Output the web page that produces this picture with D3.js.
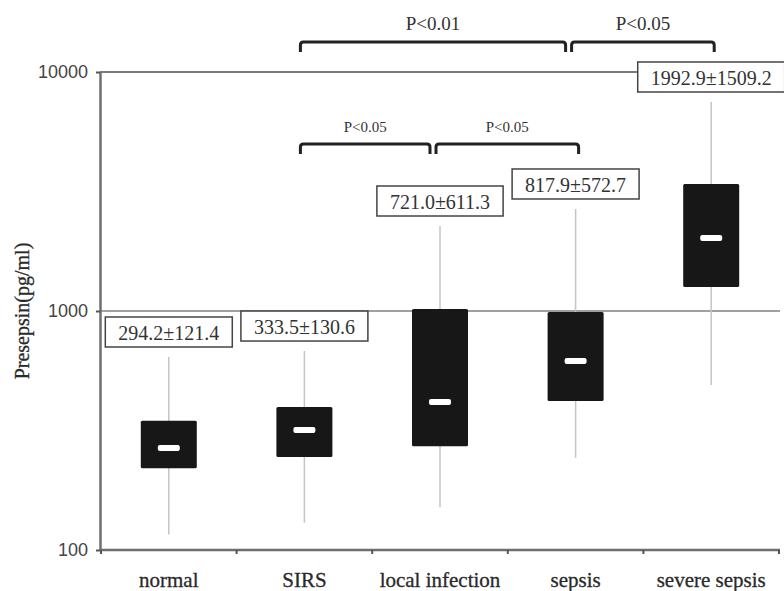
<!DOCTYPE html>
<html>
<head>
<meta charset="utf-8">
<script src="https://cdn.jsdelivr.net/npm/d3@7"></script>
<style>
  body { margin: 0; background: #fff; }
  svg { display: block; }
</style>
</head>
<body>
<div id="chart"></div>
<script>
var categories = ["normal", "SIRS", "local infection", "sepsis", "severe sepsis"];
var whiskerLow  = [116, 130, 151, 243, 490];
var q1          = [220, 245, 272, 420, 1259];
var median      = [267, 318, 416, 618, 2020];
var q3          = [347, 397, 1019, 990, 3398];
var whiskerHigh = [642, 680, 2268, 2672, 7490];
var meanSd = ["294.2±121.4", "333.5±130.6", "721.0±611.3", "817.9±572.7", "1992.9±1509.2"];
var yTicks = [100, 1000, 10000];
var gridValues = [1000, 10000];

// significance brackets: level 0 is the top row
var brackets = [
  {from: "SIRS", to: "sepsis", label: "P<0.01", level: 0},
  {from: "sepsis", to: "severe sepsis", label: "P<0.05", level: 0},
  {from: "SIRS", to: "local infection", label: "P<0.05", level: 1},
  {from: "local infection", to: "sepsis", label: "P<0.05", level: 1}
];

var width = 784, height = 591;
var plotLeft = 100, plotRight = 780, plotTop = 72, plotBottom = 550;
var serif = "'Liberation Serif', 'Times New Roman', serif";
var sans = "'Liberation Sans', Arial, sans-serif";

var svg = d3.select('#chart').append('svg')
  .attr('width', width)
  .attr('height', height);

var x = d3.scaleBand().domain(categories).range([plotLeft + 1, plotRight - 1]).padding(0);
var y = d3.scaleLog().domain([100, 10000]).range([plotBottom, plotTop]);
var cx = function(c){ return x(c) + x.bandwidth() / 2; };
var boxW = 56;

var rows = categories.map(function(c, i){
  return {cat: c, lo: whiskerLow[i], q1: q1[i], med: median[i], q3: q3[i], hi: whiskerHigh[i], label: meanSd[i]};
});

// grid lines
svg.selectAll('line.grid').data(gridValues)
  .enter().append('line')
  .attr('class', 'grid')
  .attr('x1', plotLeft).attr('x2', plotRight)
  .attr('y1', function(d){ return y(d); })
  .attr('y2', function(d){ return y(d); })
  .attr('stroke', function(d){ return d === 10000 ? '#7a7a7a' : '#a0a0a0'; })
  .attr('stroke-width', 2);

// y axis
var yAxis = svg.append('g')
  .attr('transform', 'translate(' + plotLeft + ',0)')
  .call(d3.axisLeft(y).tickValues(yTicks).tickFormat(d3.format('d')).tickSize(4).tickSizeOuter(0).tickPadding(8));
yAxis.select('.domain').attr('stroke', '#6e6e6e').attr('stroke-width', 2.5);
yAxis.selectAll('.tick line').attr('stroke', '#555').attr('stroke-width', 2);
yAxis.selectAll('.tick text')
  .attr('font-family', sans).attr('font-size', 18).attr('fill', '#444');

// x axis line and boundary ticks
svg.append('line')
  .attr('x1', plotLeft).attr('x2', plotRight)
  .attr('y1', plotBottom).attr('y2', plotBottom)
  .attr('stroke', '#6e6e6e').attr('stroke-width', 2.5);

var bounds = categories.map(function(c){ return x(c); }).concat([x.range()[1]]);
svg.selectAll('line.xtick').data(bounds)
  .enter().append('line')
  .attr('class', 'xtick')
  .attr('x1', function(d){ return d; }).attr('x2', function(d){ return d; })
  .attr('y1', plotBottom).attr('y2', plotBottom + 4)
  .attr('stroke', '#555').attr('stroke-width', 2);

svg.selectAll('text.cat').data(categories)
  .enter().append('text')
  .attr('class', 'cat')
  .attr('x', cx)
  .attr('y', plotBottom + 37)
  .attr('text-anchor', 'middle')
  .attr('font-family', serif).attr('font-size', 21).attr('fill', '#2a2a2a')
  .attr('stroke', '#2a2a2a').attr('stroke-width', 0.3)
  .text(function(d){ return d; });

// y title
svg.append('text')
  .attr('transform', 'translate(29,' + y(1000) + ') rotate(-90)')
  .attr('text-anchor', 'middle')
  .attr('font-family', serif).attr('font-size', 20).attr('fill', '#2a2a2a')
  .attr('stroke', '#2a2a2a').attr('stroke-width', 0.3)
  .text('Presepsin(pg/ml)');

// whiskers
svg.selectAll('line.whisker').data(rows)
  .enter().append('line')
  .attr('class', 'whisker')
  .attr('x1', function(d){ return cx(d.cat); }).attr('x2', function(d){ return cx(d.cat); })
  .attr('y1', function(d){ return y(d.lo); })
  .attr('y2', function(d){ return y(d.hi); })
  .attr('stroke', '#c4c4c4').attr('stroke-width', 1.5);

// boxes
svg.selectAll('rect.box').data(rows)
  .enter().append('rect')
  .attr('class', 'box')
  .attr('x', function(d){ return cx(d.cat) - boxW / 2; })
  .attr('y', function(d){ return y(d.q3); })
  .attr('width', boxW)
  .attr('height', function(d){ return y(d.q1) - y(d.q3); })
  .attr('fill', '#171717')
  .attr('rx', 1.5);

// medians
svg.selectAll('rect.med').data(rows)
  .enter().append('rect')
  .attr('class', 'med')
  .attr('x', function(d){ return cx(d.cat) - 11; })
  .attr('y', function(d){ return y(d.med) - 3; })
  .attr('width', 22).attr('height', 6)
  .attr('rx', 2)
  .attr('fill', '#fff');

// mean±sd labels
var lab = svg.selectAll('g.lab').data(rows)
  .enter().append('g')
  .attr('class', 'lab');

lab.append('text')
  .attr('x', function(d){ return cx(d.cat); })
  .attr('y', function(d){ return y(d.hi) - 17; })
  .attr('text-anchor', 'middle')
  .attr('font-family', serif).attr('font-size', 20).attr('fill', '#333')
  .text(function(d){ return d.label; });

lab.each(function(){
  var g = d3.select(this);
  var bb = g.select('text').node().getBBox();
  var padX = 13;
  g.insert('rect', 'text')
    .attr('x', bb.x - padX)
    .attr('y', bb.y - 5)
    .attr('width', bb.width + padX * 2)
    .attr('height', bb.height + 8)
    .attr('fill', '#fff')
    .attr('stroke', '#444')
    .attr('stroke-width', 1.5);
});

// brackets
var levelY = [42, 144];
var levelSize = [19, 15];
var bracketEnds = function(b){
  var joinsRight = brackets.some(function(o){ return o.level === b.level && o.from === b.to; });
  var x1 = cx(b.from) - 4;
  var x2 = joinsRight ? cx(b.to) - 10 : cx(b.to) + 3;
  return [x1, x2];
};

svg.selectAll('path.bracket').data(brackets)
  .enter().append('path')
  .attr('class', 'bracket')
  .attr('d', function(b){
    var e = bracketEnds(b), yt = levelY[b.level], yb = yt + 10, r = 3;
    return 'M' + e[0] + ',' + yb + 'L' + e[0] + ',' + (yt + r) +
      'Q' + e[0] + ',' + yt + ' ' + (e[0] + r) + ',' + yt +
      'L' + (e[1] - r) + ',' + yt +
      'Q' + e[1] + ',' + yt + ' ' + e[1] + ',' + (yt + r) +
      'L' + e[1] + ',' + yb;
  })
  .attr('fill', 'none')
  .attr('stroke', '#222')
  .attr('stroke-width', 3);

svg.selectAll('text.pval').data(brackets)
  .enter().append('text')
  .attr('class', 'pval')
  .attr('x', function(b){ var e = bracketEnds(b); return (e[0] + e[1]) / 2; })
  .attr('y', function(b){ return levelY[b.level] - 12; })
  .attr('text-anchor', 'middle')
  .attr('font-family', serif)
  .attr('font-size', function(b){ return levelSize[b.level]; })
  .attr('fill', '#333')
  .text(function(b){ return b.label; });
</script>
</body>
</html>
